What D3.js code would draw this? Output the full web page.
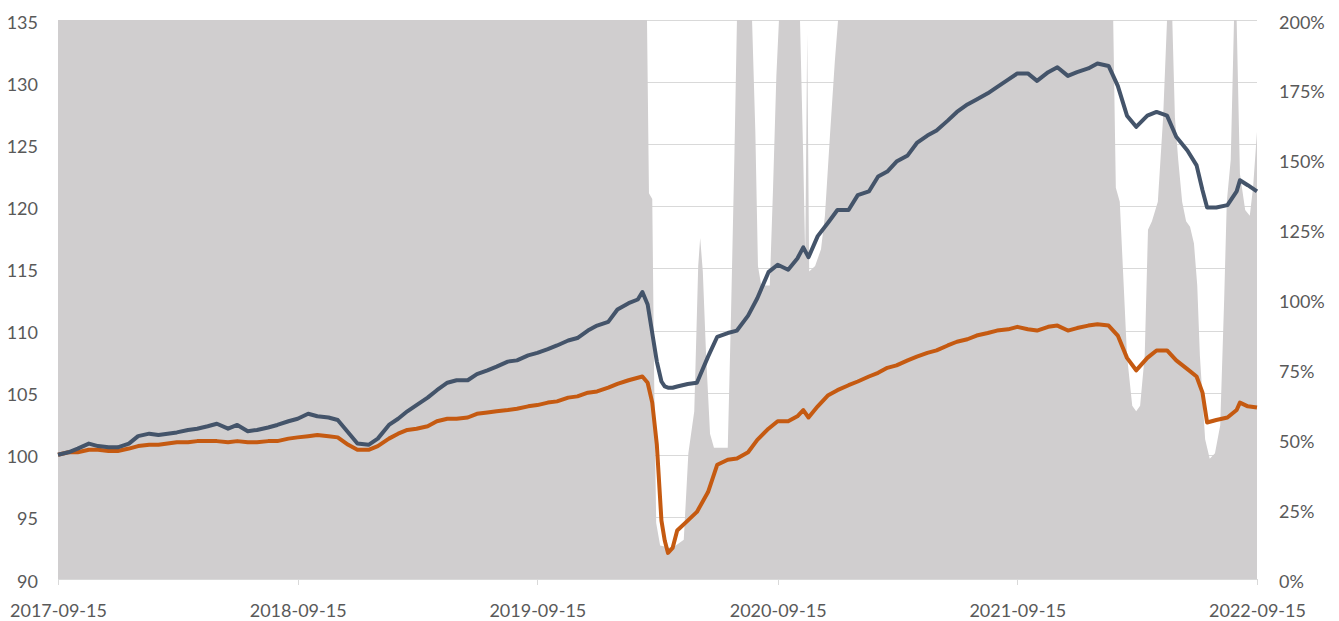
<!DOCTYPE html>
<html>
<head>
<meta charset="utf-8">
<script src="https://cdn.jsdelivr.net/npm/d3@7"></script>
<style>
  body { margin: 0; background: #fff; }
  svg { display: block; }
</style>
</head>
<body>
<svg id="chart" width="1339" height="621" viewBox="0 0 1339 621"></svg>
<script>
// dates shared by the two index lines
const lineDates = [
  "2017-09-15","2017-10-01","2017-10-15","2017-11-01","2017-11-15","2017-12-01","2017-12-15",
  "2018-01-01","2018-01-15","2018-02-01","2018-02-15","2018-03-01","2018-03-15","2018-04-01",
  "2018-04-15","2018-05-01","2018-05-15","2018-06-01","2018-06-15","2018-07-01","2018-07-15",
  "2018-08-01","2018-08-15","2018-09-01","2018-09-15","2018-10-01","2018-10-15","2018-11-01",
  "2018-11-15","2018-12-01","2018-12-15","2019-01-01","2019-01-15","2019-02-01","2019-02-15",
  "2019-03-01","2019-03-15","2019-04-01","2019-04-15","2019-05-01","2019-05-15","2019-06-01",
  "2019-06-15","2019-07-01","2019-07-15","2019-08-01","2019-08-15","2019-09-01","2019-09-15",
  "2019-10-01","2019-10-15","2019-11-01","2019-11-15","2019-12-01","2019-12-15","2020-01-01",
  "2020-01-15","2020-02-01","2020-02-15","2020-02-22","2020-03-01","2020-03-08","2020-03-15",
  "2020-03-22","2020-03-27","2020-04-01","2020-04-08","2020-04-15","2020-05-01","2020-05-15",
  "2020-06-01","2020-06-15","2020-07-01","2020-07-15","2020-08-01","2020-08-15","2020-09-01",
  "2020-09-15","2020-10-01","2020-10-15","2020-10-24","2020-11-01","2020-11-15","2020-12-01",
  "2020-12-15","2021-01-01","2021-01-15","2021-02-01","2021-02-15","2021-03-01","2021-03-15",
  "2021-04-01","2021-04-15","2021-05-01","2021-05-15","2021-06-01","2021-06-15","2021-07-01",
  "2021-07-15","2021-08-01","2021-08-15","2021-09-01","2021-09-15","2021-10-01","2021-10-15",
  "2021-11-01","2021-11-15","2021-12-01","2021-12-15","2022-01-01","2022-01-15","2022-02-01",
  "2022-02-15","2022-03-01","2022-03-15","2022-04-01","2022-04-15","2022-05-01","2022-05-15",
  "2022-06-01","2022-06-15","2022-06-24","2022-07-01","2022-07-15","2022-08-01","2022-08-15",
  "2022-08-20","2022-09-01","2022-09-15"
];

// navy line (left axis)
const blueValues = [
  100.0,100.2,100.5,100.9,100.7,100.6,100.6,
  100.9,101.5,101.7,101.6,101.7,101.8,102.0,
  102.1,102.3,102.5,102.1,102.4,101.9,102.0,
  102.2,102.4,102.7,102.9,103.3,103.1,103.0,
  102.8,101.8,100.9,100.8,101.3,102.4,102.9,
  103.5,104.0,104.6,105.2,105.8,106.0,106.0,
  106.5,106.8,107.1,107.5,107.6,108.0,108.2,
  108.5,108.8,109.2,109.4,110.0,110.4,110.7,
  111.7,112.2,112.5,113.1,112.1,109.8,107.5,
  105.9,105.5,105.4,105.4,105.5,105.7,105.8,
  107.9,109.5,109.8,110.0,111.2,112.6,114.7,
  115.3,114.9,115.8,116.7,115.9,117.6,118.7,
  119.7,119.7,120.9,121.2,122.4,122.8,123.6,
  124.1,125.1,125.7,126.1,126.9,127.6,128.2,
  128.6,129.1,129.6,130.2,130.7,130.7,130.1,
  130.8,131.2,130.5,130.8,131.1,131.5,131.3,
  129.7,127.3,126.4,127.3,127.6,127.3,125.6,
  124.5,123.3,121.3,119.9,119.9,120.1,121.2,
  122.1,121.7,121.2
];

// orange line (left axis)
const orangeValues = [
  100.0,100.2,100.2,100.4,100.4,100.3,100.3,
  100.5,100.7,100.8,100.8,100.9,101.0,101.0,
  101.1,101.1,101.1,101.0,101.1,101.0,101.0,
  101.1,101.1,101.3,101.4,101.5,101.6,101.5,
  101.4,100.8,100.4,100.4,100.7,101.3,101.7,
  102.0,102.1,102.3,102.7,102.9,102.9,103.0,
  103.3,103.4,103.5,103.6,103.7,103.9,104.0,
  104.2,104.3,104.6,104.7,105.0,105.1,105.4,
  105.7,106.0,106.2,106.3,105.8,104.2,100.8,
  94.7,93.1,92.1,92.5,93.9,94.7,95.4,
  97.0,99.2,99.6,99.7,100.2,101.2,102.1,
  102.7,102.7,103.1,103.6,103.0,103.9,104.8,
  105.2,105.6,105.9,106.3,106.6,107.0,107.2,
  107.6,107.9,108.2,108.4,108.8,109.1,109.3,
  109.6,109.8,110.0,110.1,110.3,110.1,110.0,
  110.3,110.4,110.0,110.2,110.4,110.5,110.4,
  109.6,107.8,106.8,107.8,108.4,108.4,107.6,
  106.9,106.3,105.0,102.6,102.8,103.0,103.6,
  104.2,103.9,103.8
];

// grey area (right axis, %)
const areaDates = [
  "2017-09-15","2020-02-29","2020-03-03","2020-03-08","2020-03-11","2020-03-14","2020-03-20",
  "2020-04-07","2020-04-25","2020-05-02","2020-05-11","2020-05-17","2020-05-20","2020-05-24",
  "2020-05-29","2020-06-04","2020-06-10","2020-07-01","2020-07-06","2020-07-11","2020-07-15",
  "2020-08-07","2020-08-12","2020-08-16","2020-08-21","2020-09-03","2020-09-08","2020-09-13",
  "2020-09-17","2020-10-19","2020-10-24","2020-10-27","2020-10-30","2020-11-02","2020-11-11",
  "2020-11-20","2020-11-26","2020-12-04","2020-12-11","2020-12-16","2022-02-08","2022-02-12",
  "2022-02-18","2022-02-23","2022-03-01","2022-03-09","2022-03-15","2022-03-21","2022-03-28",
  "2022-04-02","2022-04-08","2022-04-17","2022-04-25","2022-05-01","2022-05-09","2022-05-13",
  "2022-05-18","2022-05-24","2022-05-30","2022-06-05","2022-06-11","2022-06-16","2022-06-20",
  "2022-06-28","2022-07-05","2022-07-13","2022-07-21","2022-07-27","2022-07-31","2022-08-06",
  "2022-08-11","2022-08-15","2022-08-20","2022-08-28","2022-09-04","2022-09-09","2022-09-15"
];
const areaValues = [
  200,200,138,136,70,20,12,
  11,14,45,60,112,122,110,
  80,52,47,47,95,150,200,
  200,160,112,105,105,140,180,
  200,200,150,115,195,110,112,
  118,130,160,185,200,200,140,
  135,110,80,62,60,62,80,
  125,128,135,165,200,200,165,
  150,135,128,126,120,105,80,
  50,43,45,55,100,135,150,
  200,200,145,132,130,140,160
];

const leftTicks = [90, 95, 100, 105, 110, 115, 120, 125, 130, 135];
const rightTicks = [0, 25, 50, 75, 100, 125, 150, 175, 200];
const xTicks = ["2017-09-15","2018-09-15","2019-09-15","2020-09-15","2021-09-15","2022-09-15"];

const parse = d3.timeParse("%Y-%m-%d");

const blueData = lineDates.map((d, i) => ({ date: parse(d), value: blueValues[i] }));
const orangeData = lineDates.map((d, i) => ({ date: parse(d), value: orangeValues[i] }));
const areaData = areaDates.map((d, i) => ({ date: parse(d), value: areaValues[i] }));

const margin = { top: 20, right: 82, bottom: 42, left: 58 };
const width = 1339 - margin.left - margin.right;
const height = 621 - margin.top - margin.bottom;

const svg = d3.select("#chart");
const g = svg.append("g").attr("transform", `translate(${margin.left},${margin.top})`);

const x = d3.scaleTime()
  .domain([parse(xTicks[0]), parse(xTicks[xTicks.length - 1])])
  .range([0, width]);
const yLeft = d3.scaleLinear().domain([90, 135]).range([height, 0]);
const yRight = d3.scaleLinear().domain([0, 200]).range([height, 0]);

svg.append("defs").append("clipPath").attr("id", "plotClip")
  .append("rect").attr("width", width).attr("height", height);

// gridlines behind everything
g.append("g")
  .selectAll("line")
  .data(leftTicks)
  .enter()
  .append("line")
  .attr("x1", 0)
  .attr("x2", width)
  .attr("y1", (d) => Math.round(yLeft(d)) + 0.5)
  .attr("y2", (d) => Math.round(yLeft(d)) + 0.5)
  .attr("stroke", "#d9d9d9")
  .attr("stroke-width", 1);

// grey area on right axis
const area = d3.area()
  .x((d) => x(d.date))
  .y0(height)
  .y1((d) => yRight(d.value));

g.append("path")
  .datum(areaData)
  .attr("clip-path", "url(#plotClip)")
  .attr("d", area)
  .attr("fill", "#d0cecf");

// bottom axis line with small ticks
g.append("line")
  .attr("x1", 0).attr("x2", width)
  .attr("y1", height + 0.5).attr("y2", height + 0.5)
  .attr("stroke", "#d9d9d9");

g.append("g")
  .selectAll("line")
  .data(xTicks)
  .enter()
  .append("line")
  .attr("x1", (d) => Math.round(x(parse(d))) + 0.5)
  .attr("x2", (d) => Math.round(x(parse(d))) + 0.5)
  .attr("y1", height)
  .attr("y2", height + 6)
  .attr("stroke", "#d9d9d9");

const line = d3.line()
  .x((d) => x(d.date))
  .y((d) => yLeft(d.value));

g.append("path")
  .datum(orangeData)
  .attr("d", line)
  .attr("fill", "none")
  .attr("stroke", "#c55a11")
  .attr("stroke-width", 4)
  .attr("stroke-linejoin", "round");

g.append("path")
  .datum(blueData)
  .attr("d", line)
  .attr("fill", "none")
  .attr("stroke", "#44546a")
  .attr("stroke-width", 4)
  .attr("stroke-linejoin", "round");

// axes (labels only)
const fontStack = "Lato, 'Open Sans', sans-serif";

function styleAxis(sel) {
  sel.select(".domain").remove();
  sel.selectAll(".tick line").remove();
  sel.selectAll("text")
    .attr("fill", "#595959")
    .style("font-family", fontStack)
    .style("font-size", "18px");
}

g.append("g")
  .call(d3.axisLeft(yLeft).tickValues(leftTicks).tickSize(0).tickPadding(20))
  .call(styleAxis)
  .selectAll("text").attr("dy", "0.45em");

g.append("g")
  .attr("transform", `translate(${width},0)`)
  .call(d3.axisRight(yRight).tickValues(rightTicks).tickSize(0).tickPadding(22)
    .tickFormat((d) => d + "%"))
  .call(styleAxis)
  .selectAll("text").attr("dy", "0.45em");

g.append("g")
  .attr("transform", `translate(0,${height})`)
  .call(d3.axisBottom(x).tickValues(xTicks.map(parse)).tickSize(0).tickPadding(25)
    .tickFormat(d3.timeFormat("%Y-%m-%d")))
  .call(styleAxis);
</script>
</body>
</html>
